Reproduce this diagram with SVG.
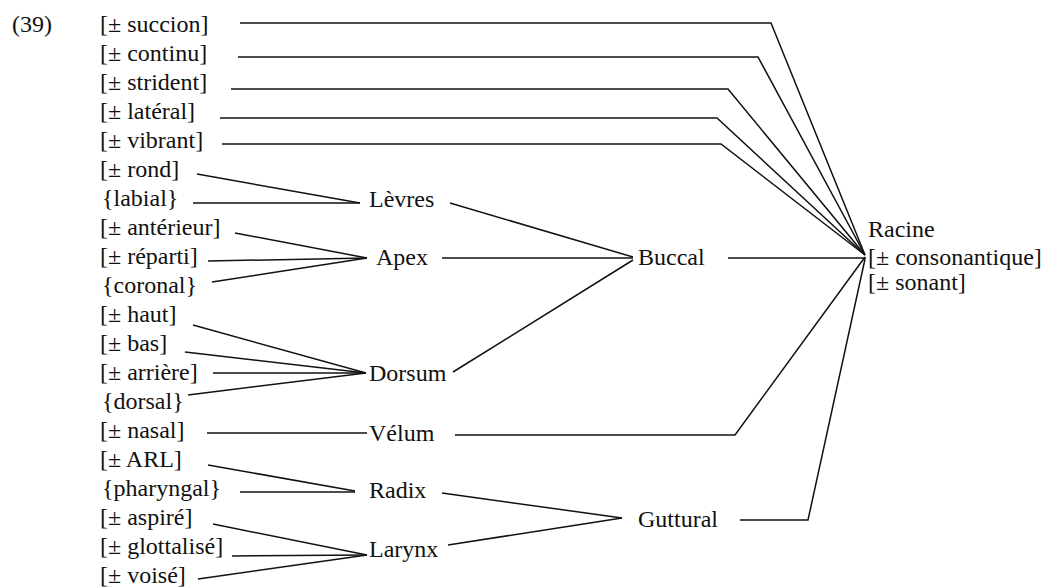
<svg xmlns="http://www.w3.org/2000/svg" width="1051" height="588" viewBox="0 0 1051 588">
<style>
text{font-family:'Liberation Serif','Tinos','Noto Serif','DejaVu Serif','FreeSerif','Times New Roman',Times,serif;font-size:24px;fill:#111}
.c line,.c polyline{stroke:#111;stroke-width:1.5;fill:none}
</style>
<rect width="1051" height="588" fill="#fff"/>
<g class="c" id="connectors">
<polyline points="240,23 771,23 865,255"/>
<polyline points="238,57 758,57 865,255"/>
<polyline points="231,89 728,89 865,255"/>
<polyline points="220,118 717,118 865,255"/>
<polyline points="222,144 721,144 865,255"/>
<line x1="197" y1="174" x2="360" y2="203"/>
<line x1="193" y1="203" x2="360" y2="203"/>
<line x1="235" y1="233" x2="367" y2="258"/>
<line x1="208" y1="261" x2="367" y2="258"/>
<line x1="212" y1="282" x2="367" y2="258"/>
<line x1="193" y1="325" x2="366" y2="373"/>
<line x1="185" y1="352" x2="366" y2="373"/>
<line x1="213" y1="373" x2="366" y2="373"/>
<line x1="188" y1="395" x2="366" y2="373"/>
<line x1="207" y1="433" x2="367" y2="433"/>
<line x1="208" y1="465" x2="355" y2="491"/>
<line x1="240" y1="492" x2="355" y2="492"/>
<line x1="213" y1="524" x2="367" y2="555"/>
<line x1="232" y1="556" x2="367" y2="555"/>
<line x1="198" y1="579" x2="367" y2="555"/>
<line x1="450" y1="203" x2="633" y2="257"/>
<line x1="442" y1="258" x2="633" y2="258"/>
<line x1="453" y1="372" x2="633" y2="260"/>
<line x1="728" y1="258" x2="866" y2="258"/>
<polyline points="455,435 735,435 865,257"/>
<line x1="442" y1="493" x2="622" y2="518"/>
<line x1="448" y1="545" x2="622" y2="518"/>
<polyline points="740,520 808,520 865,259"/>
</g>
<g id="label-39"><text x="12" y="32">(39)</text></g>
<g id="succion"><text x="100" y="32">[± succion]</text></g>
<g id="continu"><text x="100" y="61">[± continu]</text></g>
<g id="strident"><text x="100" y="90">[± strident]</text></g>
<g id="lateral"><text x="100" y="119">[± latéral]</text></g>
<g id="vibrant"><text x="100" y="148">[± vibrant]</text></g>
<g id="rond"><text x="100" y="177">[± rond]</text></g>
<g id="labial"><text x="102" y="206">{labial}</text></g>
<g id="anterieur"><text x="100" y="235">[± antérieur]</text></g>
<g id="reparti"><text x="100" y="264">[± réparti]</text></g>
<g id="coronal"><text x="102" y="293">{coronal}</text></g>
<g id="haut"><text x="100" y="322">[± haut]</text></g>
<g id="bas"><text x="100" y="351">[± bas]</text></g>
<g id="arriere"><text x="100" y="380">[± arrière]</text></g>
<g id="dorsal"><text x="102" y="409">{dorsal}</text></g>
<g id="nasal"><text x="100" y="438">[± nasal]</text></g>
<g id="ARL"><text x="100" y="467">[± ARL]</text></g>
<g id="pharyngal"><text x="102" y="496">{pharyngal}</text></g>
<g id="aspire"><text x="100" y="525">[± aspiré]</text></g>
<g id="glottalise"><text x="100" y="554">[± glottalisé]</text></g>
<g id="voise"><text x="100" y="583">[± voisé]</text></g>
<g id="levres"><text x="369" y="207">Lèvres</text></g>
<g id="apex"><text x="376" y="265">Apex</text></g>
<g id="dorsum"><text x="369" y="381">Dorsum</text></g>
<g id="velum"><text x="369" y="441">Vélum</text></g>
<g id="radix"><text x="369" y="498">Radix</text></g>
<g id="larynx"><text x="369" y="557">Larynx</text></g>
<g id="buccal"><text x="638" y="265">Buccal</text></g>
<g id="guttural"><text x="638" y="527">Guttural</text></g>
<g id="racine"><text x="868" y="237">Racine</text><text x="868" y="265">[± consonantique]</text><text x="868" y="290">[± sonant]</text></g>
</svg>
